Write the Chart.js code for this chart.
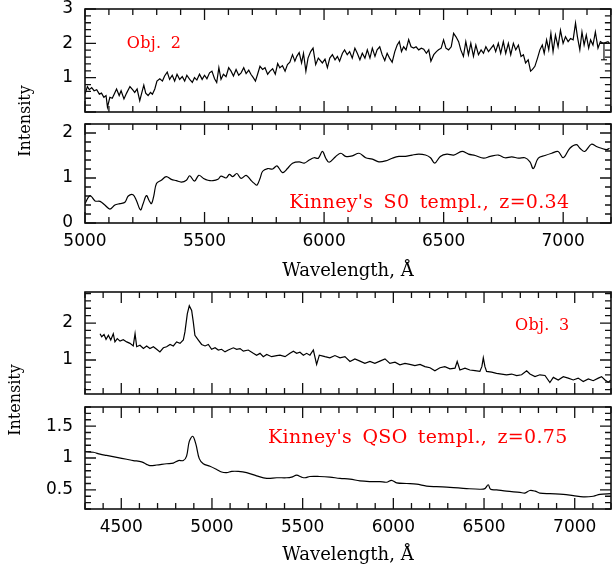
<!DOCTYPE html>
<html>
<head>
<meta charset="utf-8">
<script src="https://cdn.jsdelivr.net/npm/chart.js@4.4.0/dist/chart.umd.min.js"></script>
<style>
  html, body { margin: 0; padding: 0; background: #fff; }
  #wrap { position: relative; width: 616px; height: 569px; }
  #wrap canvas { position: absolute; left: 0; top: 0; }
</style>
</head>
<body>
<div id="wrap">
  <canvas id="obj2" width="616" height="569"></canvas>
  <canvas id="s0" width="616" height="569"></canvas>
  <canvas id="obj3" width="616" height="569"></canvas>
  <canvas id="qso" width="616" height="569"></canvas>
</div>
<script>
// Obj. 2, observed spectrum
const obj2Wave = [
  5000, 5010, 5018, 5028, 5038, 5049, 5060, 5069, 5079, 5088, 5094, 5104, 5114, 5122, 5132, 5143, 5151, 5163, 5174, 5188,
  5199, 5208, 5218, 5229, 5238, 5246, 5254, 5264, 5274, 5282, 5292, 5301, 5313, 5324, 5333, 5344, 5354, 5365, 5375, 5385,
  5396, 5407, 5417, 5426, 5438, 5449, 5458, 5468, 5479, 5490, 5500, 5510, 5521, 5531, 5542, 5551, 5560, 5569, 5579, 5590,
  5601, 5611, 5621, 5632, 5643, 5653, 5664, 5674, 5685, 5694, 5704, 5713, 5722, 5732, 5743, 5753, 5764, 5774, 5785, 5796,
  5806, 5815, 5826, 5837, 5847, 5857, 5868, 5878, 5886, 5896, 5906, 5914, 5924, 5933, 5944, 5954, 5965, 5976,
  5993, 6004, 6014, 6024, 6035, 6046, 6056, 6065, 6077, 6086, 6097, 6107, 6118, 6129, 6139, 6150, 6160, 6171, 6181, 6192,
  6202, 6213, 6222, 6233, 6243, 6254, 6264, 6274, 6285, 6296, 6306, 6315, 6324, 6333, 6343, 6354, 6364, 6375, 6385, 6396,
  6407, 6417, 6428, 6438, 6447, 6459, 6470, 6479, 6490, 6500, 6510, 6521, 6532, 6542, 6552, 6563, 6572, 6583, 6593, 6604,
  6614, 6625, 6635, 6646, 6657, 6667, 6677, 6688, 6699, 6709, 6718, 6729, 6739, 6750, 6760, 6771, 6781, 6792, 6802, 6813,
  6824, 6834, 6843, 6854, 6864, 6872, 6882, 6893, 6903, 6913, 6921, 6931, 6940, 6949, 6958, 6968, 6979, 6989, 7000, 7010,
  7021, 7031, 7042, 7052, 7060, 7070, 7079, 7088, 7097, 7107, 7115, 7125, 7135, 7146, 7156, 7167, 7177, 7188, 7194
];
const obj2Flux = [
  0.52, 0.74, 0.65, 0.71, 0.62, 0.65, 0.52, 0.55, 0.43, 0.48, 0.14, 0.43, 0.40, 0.52, 0.67, 0.48, 0.62, 0.38, 0.55, 0.74,
  0.65, 0.57, 0.67, 0.33, 0.57, 0.78, 0.55, 0.48, 0.57, 0.52, 0.67, 0.90, 0.97, 0.90, 1.05, 1.16, 0.95, 1.07, 0.90, 1.10,
  0.95, 1.03, 0.90, 1.07, 0.95, 0.86, 1.00, 0.93, 1.10, 0.95, 1.07, 0.97, 1.14, 1.19, 0.97, 0.86, 1.29, 0.95, 1.10, 1.03,
  1.29, 1.19, 1.05, 1.24, 1.07, 1.14, 1.29, 1.12, 1.22, 1.10, 1.00, 0.90, 1.10, 1.33, 1.24, 1.29, 1.10, 1.19, 1.26, 1.10,
  1.41, 1.29, 1.35, 1.19, 1.38, 1.45, 1.67, 1.48, 1.62, 1.73, 1.43, 1.71, 1.19, 1.57, 1.76, 1.86, 1.38, 1.57,
  1.43, 1.54, 1.29, 1.57, 1.67, 1.52, 1.62, 1.48, 1.71, 1.81, 1.67, 1.76, 1.57, 1.86, 1.71, 1.52, 1.71, 1.57, 1.81, 1.57,
  1.86, 1.62, 1.81, 1.90, 1.67, 1.50, 1.71, 1.57, 1.45, 1.76, 1.95, 2.05, 1.76, 1.90, 1.81, 2.11, 1.90, 1.86, 1.90, 1.81,
  1.86, 1.83, 1.71, 1.81, 1.48, 1.67, 1.76, 1.81, 1.86, 2.10, 1.86, 1.81, 1.90, 2.29, 2.19, 2.05, 1.81, 1.62, 2.05, 1.67,
  2.00, 1.62, 1.95, 1.67, 1.81, 1.71, 1.90, 1.76, 1.86, 1.95, 1.76, 2.00, 1.71, 2.05, 1.71, 2.00, 1.67, 2.00, 1.81, 1.95,
  1.62, 1.67, 1.43, 1.52, 1.19, 1.24, 1.33, 1.57, 1.81, 1.95, 1.71, 2.10, 1.81, 2.29, 1.76, 2.24, 1.90, 2.38, 2.00, 2.19,
  2.05, 2.14, 2.10, 2.59, 2.19, 1.81, 2.33, 1.95, 2.24, 1.86, 2.10, 1.95, 2.33, 1.86, 2.05, 2.00, 2.02, 2.05, 2.00
];
// error bar drawn near the red end of Obj. 2
const obj2ErrWave = [7171, 7171];
const obj2ErrFlux = [1.52, 2.0];

// Kinney's S0 template, z=0.34
const s0Wave = [
  5000, 5021, 5042, 5063, 5083, 5104, 5125, 5146, 5167, 5181, 5201, 5215, 5232, 5243, 5257, 5268, 5278, 5288, 5299, 5319,
  5340, 5361, 5382, 5403, 5424, 5438, 5458, 5476, 5496, 5514, 5535, 5556, 5569, 5590, 5604, 5618, 5635, 5653, 5674, 5694,
  5708, 5719, 5732, 5743, 5764, 5785, 5803, 5826, 5847, 5868, 5896, 5917, 5938, 5958, 5976,
  5993, 6007, 6021, 6049, 6070, 6090, 6118, 6146, 6174, 6202, 6229, 6257, 6285, 6313, 6340, 6368, 6396, 6424, 6445, 6463,
  6486, 6514, 6542, 6577, 6604, 6632, 6667, 6695, 6729, 6757, 6785, 6813, 6840, 6861, 6875, 6896, 6924, 6952, 6979, 7000,
  7028, 7056, 7070, 7090, 7118, 7139, 7160, 7181, 7194
];
const s0Flux = [
  0.43, 0.61, 0.49, 0.48, 0.40, 0.31, 0.40, 0.43, 0.46, 0.60, 0.63, 0.50, 0.29, 0.43, 0.61, 0.50, 0.43, 0.61, 0.88, 0.95,
  1.03, 0.97, 0.94, 0.91, 0.95, 1.05, 0.93, 1.06, 0.99, 0.95, 0.94, 0.97, 1.04, 1.00, 1.08, 1.03, 1.10, 0.99, 1.06, 0.95,
  0.88, 0.84, 0.99, 1.15, 1.21, 1.20, 1.27, 1.12, 1.21, 1.33, 1.36, 1.33, 1.40, 1.45, 1.44,
  1.59, 1.44, 1.35, 1.48, 1.55, 1.48, 1.49, 1.55, 1.45, 1.42, 1.36, 1.38, 1.44, 1.48, 1.48, 1.51, 1.53, 1.51, 1.45, 1.33,
  1.48, 1.53, 1.51, 1.59, 1.53, 1.50, 1.44, 1.48, 1.51, 1.45, 1.47, 1.44, 1.45, 1.36, 1.21, 1.44, 1.50, 1.55, 1.59, 1.45,
  1.66, 1.74, 1.66, 1.59, 1.75, 1.70, 1.66, 1.63, 1.66
];

// Obj. 3, observed spectrum
const obj3Wave = [
  4383, 4392, 4405, 4416, 4429, 4442, 4456, 4465, 4478, 4493, 4511, 4530, 4548, 4566, 4576, 4585, 4603, 4622, 4640, 4658,
  4677, 4695, 4713, 4732, 4750, 4769, 4787, 4805, 4824, 4842, 4851, 4864, 4875, 4888, 4897, 4906, 4925, 4943, 4962, 4980,
  4998, 5017, 5035, 5053, 5072, 5090, 5118, 5136, 5155, 5173, 5200, 5228, 5246, 5265, 5283, 5302, 5329, 5357, 5375, 5403,
  5430, 5449, 5467, 5485, 5504, 5522, 5540, 5559, 5577, 5592,
  5595, 5623, 5650, 5678, 5706, 5733, 5761, 5788, 5816, 5843, 5871, 5898, 5926, 5954, 5981, 6009, 6036, 6064, 6091, 6119,
  6147, 6174, 6202, 6229, 6257, 6284, 6312, 6340, 6352, 6367, 6395, 6422, 6450, 6477, 6488, 6496, 6505, 6514, 6542, 6569,
  6597, 6624, 6652, 6680, 6707, 6735, 6753, 6781, 6808, 6836, 6863, 6882, 6909, 6937, 6964, 6992, 7019, 7047, 7075, 7102,
  7130, 7148, 7167, 7185, 7200
];
const obj3Flux = [
  1.71, 1.63, 1.69, 1.56, 1.67, 1.54, 1.71, 1.49, 1.58, 1.51, 1.55, 1.49, 1.45, 1.38, 1.71, 1.36, 1.40, 1.31, 1.38, 1.31,
  1.36, 1.29, 1.22, 1.33, 1.36, 1.42, 1.38, 1.49, 1.45, 1.54, 1.76, 2.25, 2.47, 2.34, 2.03, 1.67, 1.54, 1.42, 1.38, 1.42,
  1.29, 1.33, 1.27, 1.29, 1.22, 1.27, 1.33, 1.29, 1.31, 1.24, 1.27, 1.18, 1.13, 1.18, 1.09, 1.15, 1.09, 1.12, 1.13, 1.09,
  1.18, 1.24, 1.18, 1.21, 1.13, 1.18, 1.13, 1.27, 0.88, 1.13,
  1.13, 1.09, 1.06, 1.12, 1.06, 1.09, 0.96, 1.03, 0.97, 0.91, 0.96, 0.91, 0.97, 1.03, 0.91, 0.94, 0.87, 0.91, 0.88, 0.85,
  0.88, 0.82, 0.79, 0.71, 0.79, 0.82, 0.76, 0.78, 0.96, 0.73, 0.78, 0.73, 0.71, 0.69, 0.82, 1.06, 0.82, 0.69, 0.67, 0.64,
  0.62, 0.60, 0.62, 0.58, 0.60, 0.71, 0.62, 0.55, 0.60, 0.58, 0.39, 0.53, 0.46, 0.55, 0.51, 0.46, 0.51, 0.42, 0.49, 0.44,
  0.51, 0.55, 0.46, 0.40, 0.46
];

// Kinney's QSO template, z=0.75
const qsoWave = [
  4300, 4346, 4383, 4419, 4475, 4530, 4566, 4612, 4640, 4658, 4695, 4750, 4787, 4815, 4842, 4860, 4875, 4894, 4912, 4930,
  4952, 4989, 5026, 5053, 5081, 5109, 5145, 5191, 5246, 5302, 5357, 5412, 5439, 5467, 5494, 5513, 5540, 5592,
  5650, 5706, 5761, 5816, 5871, 5926, 5963, 5990, 6018, 6073, 6128, 6183, 6238, 6312, 6404, 6477, 6505, 6523, 6536, 6569,
  6624, 6698, 6725, 6753, 6781, 6808, 6863, 6937, 6992, 7047, 7102, 7139, 7200
];
const qsoFlux = [
  1.10, 1.09, 1.06, 1.04, 1.01, 0.98, 0.96, 0.94, 0.90, 0.88, 0.89, 0.91, 0.92, 0.96, 0.96, 1.03, 1.26, 1.34, 1.21, 0.99,
  0.91, 0.87, 0.82, 0.78, 0.77, 0.79, 0.79, 0.77, 0.72, 0.68, 0.69, 0.69, 0.70, 0.73, 0.70, 0.69, 0.71, 0.71,
  0.70, 0.68, 0.67, 0.64, 0.63, 0.63, 0.62, 0.65, 0.61, 0.60, 0.59, 0.56, 0.55, 0.54, 0.52, 0.51, 0.52, 0.58, 0.51, 0.50,
  0.48, 0.46, 0.45, 0.49, 0.48, 0.45, 0.44, 0.43, 0.41, 0.39, 0.40, 0.43, 0.44
];

// axis ranges and tick labels
const topXRange = [5000, 7200];
const bottomXRange = [4300, 7200];
const topXLabels = [5000, 5500, 6000, 6500, 7000];
const bottomXLabels = [4500, 5000, 5500, 6000, 6500, 7000];
const obj2YRange = [0, 3];
const obj2YLabels = [1, 2, 3];
const s0YRange = [0, 2.2];
const s0YLabels = [0, 1, 2];
const obj3YRange = [0.08, 2.84];
const obj3YLabels = [1, 2];
const qsoYRange = [0.2, 1.8];
const qsoYLabels = [0.5, 1, 1.5];

const serif = 'DejaVu Serif';
const sans = 'DejaVu Sans';

function points(xs, ys) {
  return xs.map((x, i) => ({ x: x, y: ys[i] }));
}

function isMultiple(v, step) {
  return Math.abs(v / step - Math.round(v / step)) < 1e-6;
}

// values of the minor ticks inside a scale's range
function multiples(min, max, step) {
  const out = [];
  for (let k = Math.ceil(min / step - 1e-9); k * step <= max + 1e-9; k++) {
    out.push(+(k * step).toFixed(6));
  }
  return out;
}

// box frame, inward ticks on all four sides, free text
const boxTicks = {
  id: 'boxTicks',
  afterDraw(chart, args, o) {
    const { ctx, chartArea: a } = chart;
    const sx = chart.scales.x, sy = chart.scales.y;
    ctx.save();
    ctx.strokeStyle = '#111';
    ctx.lineWidth = 1.3;
    ctx.beginPath();
    multiples(sx.min, sx.max, o.xMinor).forEach(v => {
      const len = isMultiple(v, o.xMajor) ? 11 : 6;
      const px = sx.getPixelForValue(v);
      ctx.moveTo(px, a.bottom); ctx.lineTo(px, a.bottom - len);
      ctx.moveTo(px, a.top); ctx.lineTo(px, a.top + len);
    });
    multiples(sy.min, sy.max, o.yMinor).forEach(v => {
      const len = isMultiple(v, o.yMajor) ? 11 : 6;
      const py = sy.getPixelForValue(v);
      ctx.moveTo(a.left, py); ctx.lineTo(a.left + len, py);
      ctx.moveTo(a.right, py); ctx.lineTo(a.right - len, py);
    });
    ctx.stroke();
    ctx.lineWidth = 1.6;
    ctx.strokeRect(a.left, a.top, a.right - a.left, a.bottom - a.top);

    ctx.textBaseline = 'middle';
    ctx.textAlign = 'left';
    ctx.fillStyle = '#ff0000';
    (o.notes || []).forEach(n => {
      ctx.font = n.size + 'px "' + serif + '"';
      ctx.wordSpacing = n.gap + 'px';
      ctx.letterSpacing = n.spacing + 'px';
      ctx.fillText(n.text, sx.getPixelForValue(n.x), sy.getPixelForValue(n.y));
    });
    ctx.wordSpacing = '0px';
    ctx.letterSpacing = '0px';

    if (o.side) {
      ctx.translate(o.side.x, o.side.y);
      ctx.rotate(-Math.PI / 2);
      ctx.font = '16px "' + serif + '"';
      ctx.fillStyle = '#000';
      ctx.textAlign = 'center';
      ctx.fillText(o.side.text, 0, 0);
    }
    ctx.restore();
  }
};

function panel(id, cfg) {
  return new Chart(document.getElementById(id), {
    type: 'line',
    data: { datasets: cfg.datasets },
    options: {
      responsive: false,
      animation: false,
      devicePixelRatio: 1,
      events: [],
      layout: { padding: { left: 0, right: 5, top: cfg.top, bottom: cfg.bottom } },
      plugins: {
        legend: { display: false },
        tooltip: { enabled: false },
        boxTicks: {
          xMinor: 100, xMajor: 500,
          yMinor: cfg.yMinor, yMajor: cfg.yMajor,
          notes: cfg.notes, side: cfg.side
        }
      },
      scales: {
        x: {
          type: 'linear',
          min: cfg.xRange[0],
          max: cfg.xRange[1],
          bounds: 'data',
          grid: { display: false, drawTicks: false },
          border: { display: false },
          afterBuildTicks: s => { s.ticks = cfg.xLabels.map(v => ({ value: v })); },
          afterFit: s => { s.height = cfg.xHeight; s.paddingLeft = 0; s.paddingRight = 0; },
          ticks: {
            display: cfg.showX,
            autoSkip: false,
            maxRotation: 0,
            minRotation: 0,
            padding: 8,
            color: '#000',
            font: { family: sans, size: 17 },
            callback: v => String(v)
          },
          title: {
            display: cfg.showX,
            text: 'Wavelength, Å',
            color: '#000',
            font: { family: serif, size: 18 },
            padding: { top: 0, bottom: 3 }
          }
        },
        y: {
          type: 'linear',
          min: cfg.yRange[0],
          max: cfg.yRange[1],
          bounds: 'data',
          grid: { display: false, drawTicks: false },
          border: { display: false },
          afterBuildTicks: s => { s.ticks = cfg.yLabels.map(v => ({ value: v })); },
          afterFit: s => { s.width = 85; s.paddingTop = 0; s.paddingBottom = 0; },
          ticks: {
            padding: 12,
            color: '#000',
            font: { family: sans, size: 17 },
            callback: v => String(v)
          }
        }
      }
    },
    plugins: [boxTicks]
  });
}

const lineStyle = { borderColor: '#000', borderWidth: 1.2, pointRadius: 0, fill: false };

panel('obj2', {
  top: 9, bottom: 457, xHeight: 0, showX: false,
  xRange: topXRange, xLabels: topXLabels,
  yRange: obj2YRange, yLabels: obj2YLabels, yMinor: 0.2, yMajor: 1,
  datasets: [
    { ...lineStyle, data: points(obj2Wave, obj2Flux), tension: 0 },
    { ...lineStyle, borderWidth: 1.1, data: points(obj2ErrWave, obj2ErrFlux),
      pointStyle: 'line', pointRadius: 3, pointBorderColor: '#000', pointBorderWidth: 1.1 }
  ],
  notes: [{ text: 'Obj. 2', x: 5175, y: 1.99, size: 16, gap: 4, spacing: 0.3 }]
});

panel('s0', {
  top: 124, bottom: 284, xHeight: 62, showX: true,
  xRange: topXRange, xLabels: topXLabels,
  yRange: s0YRange, yLabels: s0YLabels, yMinor: 0.2, yMajor: 1,
  datasets: [{ ...lineStyle, data: points(s0Wave, s0Flux), tension: 0.35 }],
  notes: [{ text: "Kinney's S0 templ., z=0.34", x: 5854, y: 0.45, size: 19, gap: 4, spacing: 0.3 }],
  side: { text: 'Intensity', x: 26, y: 121 }
});

panel('obj3', {
  top: 292, bottom: 175, xHeight: 0, showX: false,
  xRange: bottomXRange, xLabels: bottomXLabels,
  yRange: obj3YRange, yLabels: obj3YLabels, yMinor: 0.2, yMajor: 1,
  datasets: [{ ...lineStyle, data: points(obj3Wave, obj3Flux), tension: 0 }],
  notes: [{ text: 'Obj. 3', x: 6671, y: 1.92, size: 16, gap: 4, spacing: 0.3 }]
});

panel('qso', {
  top: 407, bottom: 0, xHeight: 60, showX: true,
  xRange: bottomXRange, xLabels: bottomXLabels,
  yRange: qsoYRange, yLabels: qsoYLabels, yMinor: 0.1, yMajor: 0.5,
  datasets: [{ ...lineStyle, data: points(qsoWave, qsoFlux), tension: 0.35 }],
  notes: [{ text: "Kinney's QSO templ., z=0.75", x: 5309, y: 1.31, size: 19, gap: 4, spacing: 0.3 }],
  side: { text: 'Intensity', x: 16, y: 400 }
});
</script>
</body>
</html>
